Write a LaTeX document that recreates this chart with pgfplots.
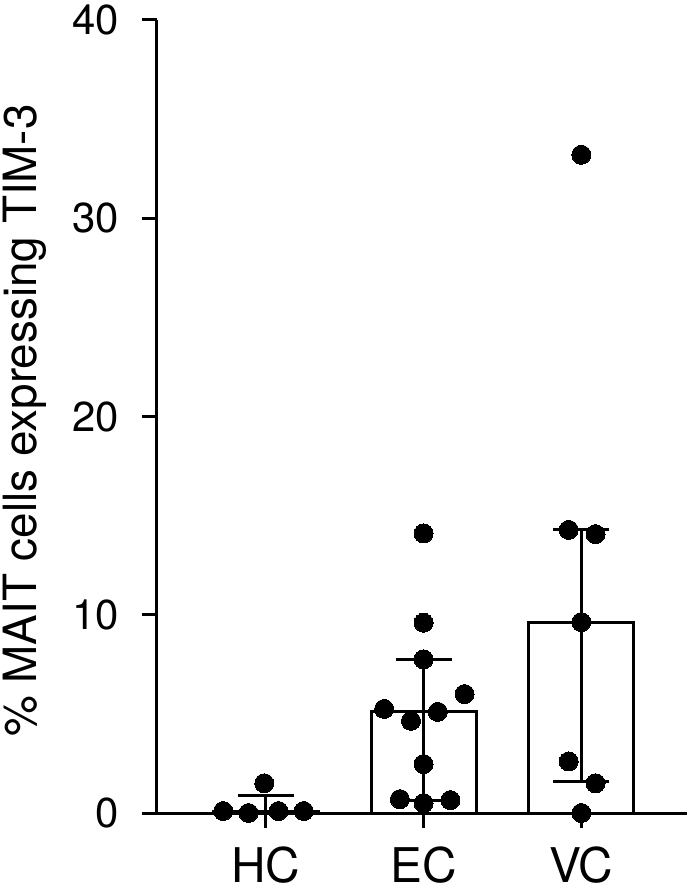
\documentclass[border=0pt]{standalone}
\usepackage{fontspec}
\setmainfont{TeX Gyre Heros}
\usepackage{pgfplots}
\usepackage{pgfplotstable}
\pgfplotsset{compat=1.18}

% medians with interquartile range
\pgfplotstableread{
x y ep em
0 0.10 0.76 0.10
1 5.10 2.65 4.45
2 9.63 4.65 8.06
}\bars

% individual donors (x jittered around the category)
\pgfplotstableread{
x y
-0.27 0.10
-0.11 0.00
0.08 0.10
0.24 0.10
-0.01 1.50
1.00 14.10
1.00 9.60
1.00 7.75
1.26 6.00
0.75 5.25
0.92 4.65
1.09 5.10
1.00 2.47
0.85 0.70
1.00 0.50
1.17 0.65
2.00 33.20
1.92 14.28
2.09 14.07
2.00 9.63
1.92 2.60
2.09 1.50
2.00 0.00
}\points

\begin{document}
\begin{tikzpicture}
\begin{axis}[
    scale only axis,
    width=530bp, height=793bp,
    xmin=-0.69, xmax=2.67,
    ymin=0, ymax=40,
    axis x line=bottom, axis y line=left,
    axis line style={-, line width=3bp},
    xtick={0,1,2}, xticklabels={HC,EC,VC},
    ytick={0,10,20,30,40},
    tick align=outside,
    major tick length=15bp,
    tick style={line width=3bp, black},
    clip=false,
    /pgf/number format/assume math mode=true,
    yticklabel style={font=\fontsize{42}{42}\selectfont, inner sep=0pt, xshift=-23bp},
    xticklabel style={font=\fontsize{48}{48}\selectfont, inner sep=0pt, yshift=-19bp},
    ylabel={\% MAIT cells expressing TIM-3},
    ylabel style={font=\fontsize{46}{46}\selectfont, at={(axis description cs:-0.228,0.495)}, anchor=base},
]
\addplot[ybar, bar width=0.665, bar shift=0pt, fill=white, draw=black, line width=3bp,
    error bars/.cd, y dir=both, y explicit,
    error bar style={line width=3bp, black},
    error mark options={line width=3bp, black, mark size=28bp, rotate=90}]
    table[x=x, y=y, y error plus=ep, y error minus=em] {\bars};
\addplot[only marks, mark=*, mark size=9.5bp, mark options={fill=black, draw=black, line width=0pt}]
    table[x=x, y=y] {\points};
\end{axis}
% page the size of the reference, axis placed as there
\pgfresetboundingbox
\path[use as bounding box] ([shift={(-157bp,-77bp)}]current axis.south west) rectangle ++(687bp,890bp);
\end{tikzpicture}
\end{document}
